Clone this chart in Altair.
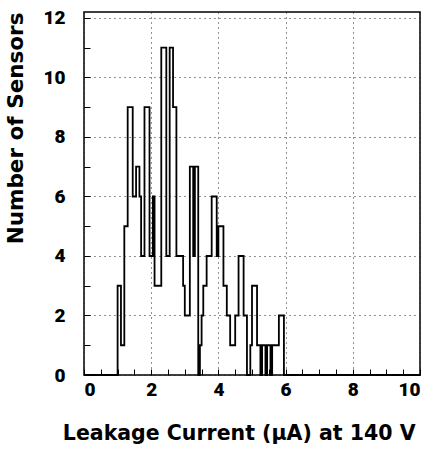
import altair as alt
import pandas as pd

# Histogram of leakage current: bins of 0.05 uA starting at 1.0 uA
bin_width = 0.05
first_bin = 1.0
counts = [
    3, 3, 1, 1, 5, 5, 9, 9, 9, 6, 6, 7, 7, 6, 4, 4, 9, 9, 9, 4,        # 1.00 - 1.95
    4, 6, 3, 3, 3, 3, 11, 11, 11, 4, 4, 11, 11, 9, 9, 4, 4, 4, 4, 3,   # 2.00 - 2.95
    2, 2, 2, 7, 7, 4, 7, 7, 0, 1, 2, 3, 3, 4, 4, 4, 6, 6, 6, 4,        # 3.00 - 3.95
    5, 5, 5, 3, 3, 2, 2, 1, 1, 1, 2, 2, 4, 4, 4, 2, 2, 0, 0, 1,        # 4.00 - 4.95
    3, 3, 3, 1, 1, 0, 1, 1, 0, 1, 1, 0, 1, 1, 1, 1, 2, 2, 2, 0,        # 5.00 - 5.95
]
x_labels = [0, 2, 4, 6, 8, 10]
y_labels = [0, 2, 4, 6, 8, 10, 12]
x_minor = [i * 0.5 for i in range(21)]
y_minor = list(range(13))

edges = [round(first_bin + i * bin_width, 2) for i in range(len(counts))]
last_edge = round(first_bin + len(counts) * bin_width, 2)
xs = [0.0] + edges + [last_edge, 10.0]
ys = [0] + counts + [0, 0]
df = pd.DataFrame({"current": xs, "sensors": ys, "order": list(range(len(xs)))})

W, H = 336, 363
x_scale = alt.Scale(domain=[0, 10], nice=False, zero=False)
y_scale = alt.Scale(domain=[0, 12.2], nice=False)

label_style = dict(labelFont="Roboto", labelFontWeight=900,
                   labelFontSize=19, labelColor="black")
title_style = dict(titleFont="DejaVu Sans", titleFontWeight="bold", titleColor="black")

hist = alt.Chart(df).mark_line(
    interpolate="step-after", color="black", strokeWidth=1.8
).encode(
    x=alt.X("current:Q", scale=x_scale,
            axis=alt.Axis(values=x_labels, title="Leakage Current (μA) at 140 V",
                          grid=True, gridDash=[1, 4], gridColor="#222", gridWidth=1,
                          ticks=False, tickSize=0, domain=False, labelPadding=5,
                          titleAnchor="end", titleBaseline="alphabetic", titleY=64,
                          titleX=331, titleFontSize=20.5,
                          **label_style, **title_style)),
    y=alt.Y("sensors:Q", scale=y_scale,
            axis=alt.Axis(values=y_labels, title="Number of Sensors",
                          grid=True, gridDash=[1, 4], gridColor="#222", gridWidth=1,
                          ticks=False, tickSize=0, domain=False, labelPadding=19,
                          titleAnchor="end", titleBaseline="alphabetic", titleX=-62,
                          titleFontSize=21.5,
                          **label_style, **title_style)),
    order="order:Q",
)

tick_layer = alt.Chart(df).mark_line(opacity=0).encode(
    x=alt.X("current:Q", scale=x_scale,
            axis=alt.Axis(orient="top", offset=-H, values=x_minor, labels=False,
                          grid=False, domain=False, ticks=True, tickSize=6,
                          tickColor="black", tickWidth=1, title=None)),
    y=alt.Y("sensors:Q", scale=y_scale,
            axis=alt.Axis(orient="right", offset=-W, values=y_minor, labels=False,
                          grid=False, domain=False, ticks=True, tickSize=6,
                          tickColor="black", tickWidth=1, title=None)),
    order="order:Q",
)

chart = alt.layer(hist, tick_layer).resolve_axis(
    x="independent", y="independent"
).properties(
    width=W, height=H,
    padding={"left": 84, "top": 12, "right": 16, "bottom": 81},
    autosize=alt.AutoSizeParams(type="none"),
    background="white",
).configure_view(stroke="black", strokeWidth=1.5)

chart.save("out.html", embed_options={"renderer": "svg", "actions": False})
